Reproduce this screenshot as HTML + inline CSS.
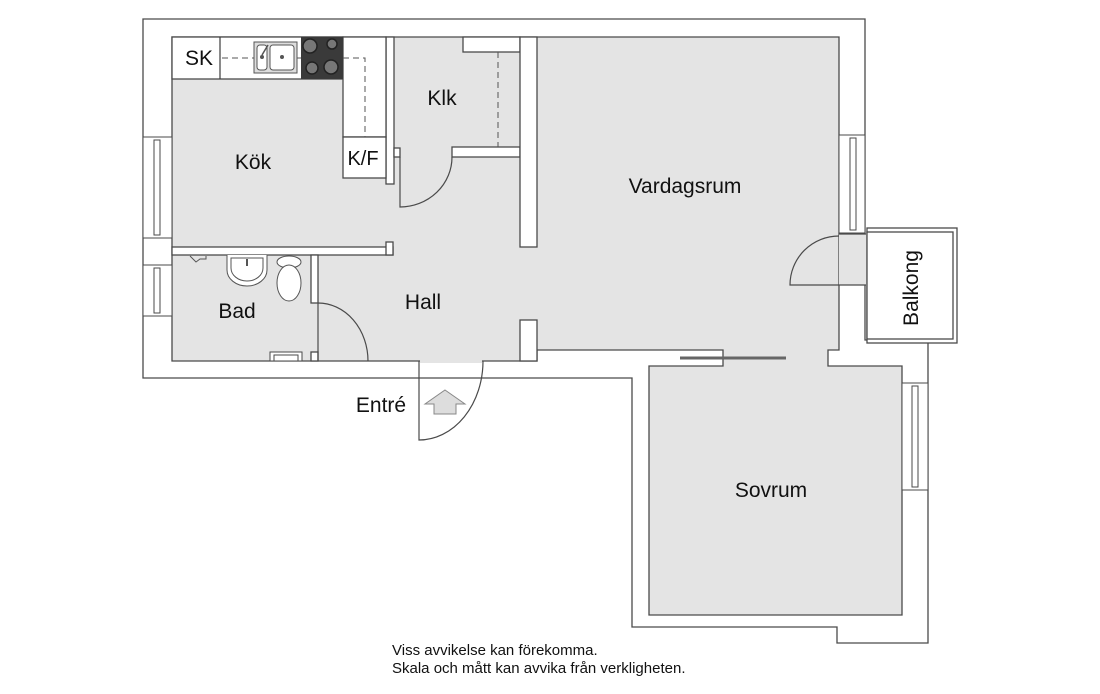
<!DOCTYPE html>
<html><head><meta charset="utf-8"><style>
html,body{margin:0;padding:0;background:#fff;}
svg{display:block;}
text{font-family:"Liberation Sans",Arial,sans-serif;fill:#111;}
</style></head><body>
<svg width="1100" height="694" viewBox="0 0 1100 694" xmlns="http://www.w3.org/2000/svg">
<g stroke="#4a4a4a" stroke-width="1.3" fill="#fff">
<polygon points="143,19 865,19 865,340 928,340 928,643 837,643 837,627 632,627 632,378 483,378 483,378 419,378 143,378"/>
<rect x="867" y="228" width="90" height="115"/>
<rect x="867" y="232" width="86" height="107"/>
<polygon fill="#e4e4e4" points="172,37 839,37 839,350 828,350 828,366 902,366 902,615 649,615 649,366 723,366 723,350 537,350 537,361 483,361 419,361 172,361"/>
<rect x="386" y="37" width="8" height="147"/>
<rect x="394" y="148" width="6" height="9"/>
<rect x="463" y="37" width="57" height="15"/>
<rect x="452" y="147" width="68" height="10"/>
<rect x="520" y="37" width="17" height="210"/>
<rect x="520" y="320" width="17" height="41"/>
<rect x="172" y="247" width="221" height="8"/>
<rect x="386" y="242" width="7" height="13"/>
<rect x="311" y="255" width="7" height="48"/>
<rect x="311" y="352" width="7" height="9"/>
<rect x="172" y="37" width="171" height="42"/>
<rect x="343" y="37" width="43" height="100"/>
<rect x="343" y="137" width="43" height="41"/>
<line x1="220" y1="37" x2="220" y2="79"/>
</g>
<rect x="839" y="234" width="27" height="51" fill="#e4e4e4"/>
<line x1="839" y1="234" x2="866" y2="234" stroke="#4a4a4a" stroke-width="1.3"/>
<line x1="839" y1="285" x2="866" y2="285" stroke="#4a4a4a" stroke-width="1.3"/>
<rect x="420" y="360" width="62" height="3" fill="#e4e4e4"/>
<rect x="724" y="351" width="103" height="14" fill="#e4e4e4"/>
<rect x="173" y="38" width="170" height="40" fill="#fff"/>
<line x1="220" y1="37" x2="220" y2="79" stroke="#4a4a4a" stroke-width="1.3"/>
<g fill="#fff" stroke="#4a4a4a" stroke-width="1">
<rect x="143" y="137" width="29" height="101"/><rect x="154" y="140" width="6" height="95"/>
<rect x="143" y="265" width="29" height="51"/><rect x="154" y="268" width="6" height="45"/>
<rect x="839" y="135" width="26" height="98"/><rect x="850" y="138" width="6" height="92"/>
<rect x="902" y="383" width="26" height="107"/><rect x="912" y="386" width="6" height="101"/>
<rect x="270" y="352" width="32" height="9"/><rect x="274" y="355" width="24" height="6"/>
</g>
<rect x="301" y="37" width="42" height="42" fill="#3a3a3a"/>
<g fill="#777" stroke="#222" stroke-width="1.5">
<circle cx="310" cy="46" r="7"/><circle cx="332" cy="44" r="5"/>
<circle cx="312" cy="68" r="6"/><circle cx="331" cy="67" r="7"/>
</g>
<rect x="254" y="42" width="43" height="31" fill="#ddd" stroke="#555"/>
<rect x="257" y="45" width="10" height="25" fill="#fff" stroke="#555" rx="3"/>
<rect x="270" y="45" width="24" height="25" fill="#fff" stroke="#555" rx="3"/>
<circle cx="262" cy="57" r="2" fill="#555"/><circle cx="282" cy="57" r="2" fill="#555"/>
<line x1="262" y1="55" x2="268" y2="45" stroke="#555" stroke-width="1.5"/>
<g stroke="#555" stroke-width="1" stroke-dasharray="6,4" fill="none">
<polyline points="222,58 254,58"/><polyline points="297,58 301,58"/><polyline points="343,58 365,58 365,137"/>
<line x1="498" y1="52" x2="498" y2="147"/>
</g>
<g fill="none" stroke="#4a4a4a" stroke-width="1.2">
<path d="M400,157 L400,207 A52,50 0 0 0 452,157"/>
<path d="M318,303 A50,58 0 0 1 368,361"/>
<line x1="318" y1="303" x2="318" y2="361"/>
<path d="M839,236 A49,49 0 0 0 790,285 L839,285"/>
<path d="M419,361 L419,440 A64,79 0 0 0 483,361"/>
<line x1="680" y1="358" x2="786" y2="358" stroke-width="3" stroke="#666"/>
</g>
<path d="M227,255 L227,270 A20,16 0 0 0 267,270 L267,255" fill="#fff" stroke="#555"/>
<path d="M231,258 L231,268 A16,13 0 0 0 263,268 L263,258 Z" fill="#fff" stroke="#555"/>
<line x1="247" y1="259" x2="247" y2="266" stroke="#555" stroke-width="2"/>
<ellipse cx="289" cy="262" rx="12" ry="6" fill="#fff" stroke="#555"/>
<ellipse cx="289" cy="283" rx="12" ry="18" fill="#fff" stroke="#555"/>
<path d="M190,256 l6,6 l4,-3 l6,0 l0,-3" fill="none" stroke="#555"/>
<polygon points="445,390 465,404 456,404 456,414 434,414 434,404 425,404" fill="#ddd" stroke="#888"/>
<text x="199" y="65" font-size="21" text-anchor="middle">SK</text>
<text x="253" y="169" font-size="21" text-anchor="middle">Kök</text>
<text x="363" y="165" font-size="20" text-anchor="middle">K/F</text>
<text x="442" y="105" font-size="21" text-anchor="middle">Klk</text>
<text x="685" y="193" font-size="21" text-anchor="middle">Vardagsrum</text>
<text x="423" y="309" font-size="21" text-anchor="middle">Hall</text>
<text x="237" y="318" font-size="21" text-anchor="middle">Bad</text>
<text x="771" y="497" font-size="21" text-anchor="middle">Sovrum</text>
<text x="0" y="0" font-size="21" text-anchor="middle" transform="translate(918,288) rotate(-90)">Balkong</text>
<text x="381" y="412" font-size="21" text-anchor="middle">Entré</text>
<text x="392" y="655" font-size="15">Viss avvikelse kan förekomma.</text>
<text x="392" y="673" font-size="15">Skala och mått kan avvika från verkligheten.</text>
</svg>
</body></html>
